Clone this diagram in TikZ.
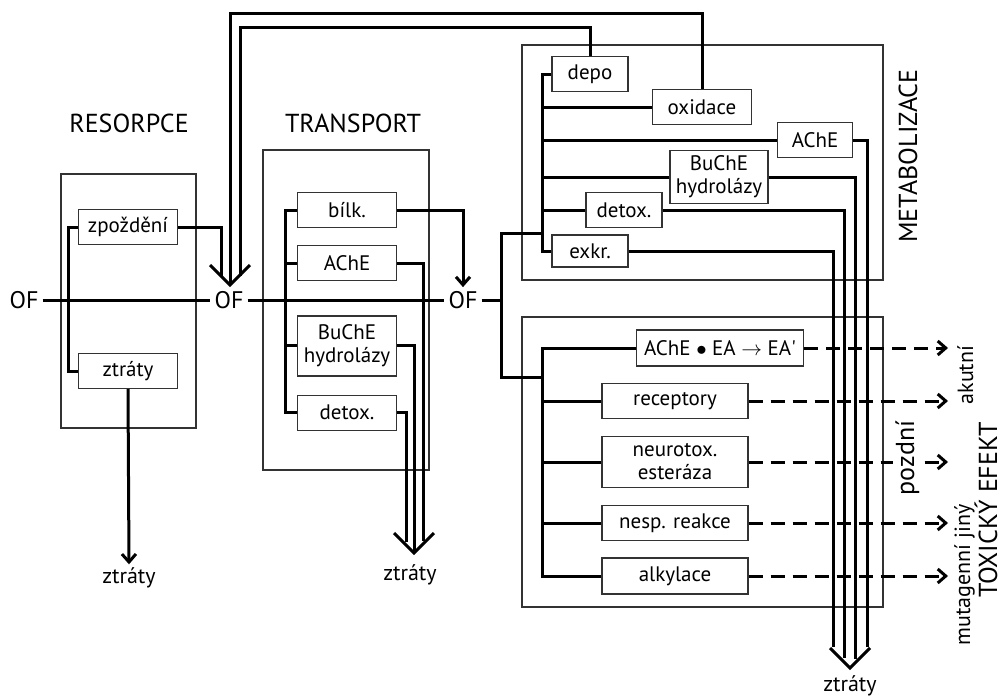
\documentclass[tikz,border=0pt]{standalone}
\usepackage{fontspec}
\setmainfont{PT Sans}
\usetikzlibrary{arrows.meta}
\usetikzlibrary{positioning}
\usetikzlibrary{calc}

\tikzset{
  box/.style={draw=black!80, line width=1.2pt, fill=white, inner sep=0pt,
    minimum height=35pt, align=center, font=\fontsize{21}{23}\selectfont},
  panel/.style={draw=black!80, line width=1.2pt},
  flow/.style={line width=3pt},
  arr/.style={-{Straight Barb[length=8pt,width=14pt]}},
  dflow/.style={line width=3pt, dash pattern=on 14pt off 8pt, arr},
  big/.style={font=\fontsize{26}{28}\selectfont},
  txt/.style={font=\fontsize{22}{24}\selectfont},
  ofl/.style={font=\fontsize{24}{26}\selectfont, inner sep=4pt},
}
\newcommand{\vhead}[1]{\draw[flow, line join=miter] ($(#1)+(-20,-20)$) -- (#1) -- ($(#1)+(20,-20)$);}

\begin{document}
\begin{tikzpicture}[x=1pt, y=-1pt]
\useasboundingbox (0,0) rectangle (1004,699);

% frames
\draw[panel] (61,174) rectangle (196,428);
\draw[panel] (263,150) rectangle (429,470);
\draw[panel] (522,45) rectangle (883,280);
\draw[panel] (522,317) rectangle (883,607);

% labels
\node[big] (resl) at (129,123) {RESORPCE};
\node[big] (trl) at (353,123) {TRANSPORT};
\node[big, rotate=90, anchor=base, inner sep=0pt] (metl) at (917,156) {METABOLIZACE};
\node[big, rotate=90, anchor=base, inner sep=0pt] (toxl) at (997,510) {TOXICKÝ EFEKT};
\node[txt, rotate=90, anchor=base, inner sep=0pt] (akut) at (973,375) {akutní};
\node[txt, rotate=90, anchor=base, inner sep=0pt] (mutj) at (970,575) {mutagenní jiný};

% OF
\node[ofl] (of1) at (24,300) {OF};
\node[ofl] (of2) at (229,300) {OF};
\node[ofl] (of3) at (463,300) {OF};

% resorpce
\node[box, minimum width=99pt] (zpoz) at (128,227) {zpoždění};
\node[box, minimum width=99pt] (rztr) at (128,371) {ztráty};
\node[txt] (lossa) at (129,578) {ztráty};

% transport
\node[box, minimum width=99pt] (bilk) at (347,210) {bílk.};
\node[box, minimum width=99pt, below=17pt of bilk] (tache) {AChE};
\node[box, minimum width=99pt, minimum height=60pt, below=34pt of tache] (tbuche) {BuChE\\hydrolázy};
\node[box, minimum width=99pt, below=18pt of tbuche] (tdet) {detox.};
\node[txt] (lossb) at (410,575) {ztráty};

% metabolizace
\node[box, minimum width=76pt] (depo) at (590,74) {depo};
\node[box, minimum width=99pt] (oxid) at (702,107) {oxidace};
\node[box, minimum width=75pt] (mache) at (815,140) {AChE};
\node[box, minimum width=98pt, minimum height=53pt] (mbuche) at (719,177) {BuChE\\hydrolázy};
\node[box, minimum width=76pt] (mdet) at (624,210) {detox.};
\node[box, minimum width=76pt, minimum height=32pt] (exkr) at (590,251) {exkr.};
\node[txt] (lossc) at (850,686) {ztráty};

% toxicky efekt
\node[box, minimum width=167pt, minimum height=36pt] (aea) at (720,348) {AChE $\bullet$ EA $\rightarrow$ EA\textquotesingle};
\node[box, minimum width=146pt] (recp) at (675,401) {receptory};
\node[box, minimum width=146pt, minimum height=51pt] (nest) at (675,462) {neurotox.\\esteráza};
\node[box, minimum width=146pt] (nesp) at (675,523) {nesp. reakce};
\node[box, minimum width=146pt, minimum height=36pt] (alk) at (675,576) {alkylace};

% trunk
\coordinate (jn) at (501,300);
\coordinate (jtop) at (501,233);
\coordinate (jbot) at (501,377);
\coordinate (mbus) at (542,0);
\coordinate (tbus) at (542,0);
\draw[flow] (of1) -- (of2);
\draw[flow] (of2) -- (of3);
\draw[flow] (of3) -- (jn);
\draw[flow] (jtop -| mbus) -- (jtop) -- (jbot) -- (jbot -| tbus);

% resorpce
\coordinate (tipa) at (230,285);
\draw[flow] (zpoz.west) -- ++(-9,0) |- (rztr.west);
\draw[flow, arr] (rztr.south) -- (lossa.north);
\draw[flow] (zpoz.east) -| ($(tipa)+(-9,-8)$);
\draw[flow] (oxid.north) |- ($(tipa)+(0,-272)$) -- (tipa);
\draw[flow] (depo.north) |- ($(tipa)+(10,-258)$) -- ($(tipa)+(10,-9)$);
\vhead{tipa}

% transport
\coordinate (tipb) at (414,553);
\draw[flow] (bilk.west) -- ++(-11,0) |- (tdet.west);
\draw[flow] (tache.west) -- ++(-11,0);
\draw[flow] (tbuche.west) -- ++(-11,0);
\draw[flow, arr] (bilk.east) -| (of3.north);
\draw[flow] (tache.east) -| ($(tipb)+(9,-12)$);
\draw[flow] (tbuche.east) -| (tipb);
\draw[flow] (tdet.east) -| ($(tipb)+(-8,-11)$);
\vhead{tipb}

% metabolizace
\coordinate (tipc) at (850,668);
\draw[flow] (depo.west) -- (depo.west -| mbus) |- (exkr.west);
\foreach \n in {oxid, mache, mbuche, mdet}
  \draw[flow] (\n.west) -- (\n.west -| mbus);
\draw[flow] (mache.east) -| ($(tipc)+(17,-21)$);
\draw[flow] (mbuche.east) -| ($(tipc)+(5,-9)$);
\draw[flow] (mdet.east) -| ($(tipc)+(-6,-10)$);
\draw[flow] (exkr.east) -| ($(tipc)+(-17,-21)$);
\vhead{tipc}

% toxicky efekt
\coordinate (tend) at (948,0);
\draw[flow] (aea.west) -- (aea.west -| tbus) |- (alk.west);
\foreach \n in {recp, nest, nesp}
  \draw[flow] (\n.west) -- (\n.west -| tbus);
\foreach \n in {aea, recp, nest, nesp, alk}
  \draw[dflow] (\n.east) -- (\n.east -| tend);
\node[big, rotate=90, anchor=base, fill=white, inner sep=2pt] (pozd) at (914,458) {pozdní};
\end{tikzpicture}
\end{document}
